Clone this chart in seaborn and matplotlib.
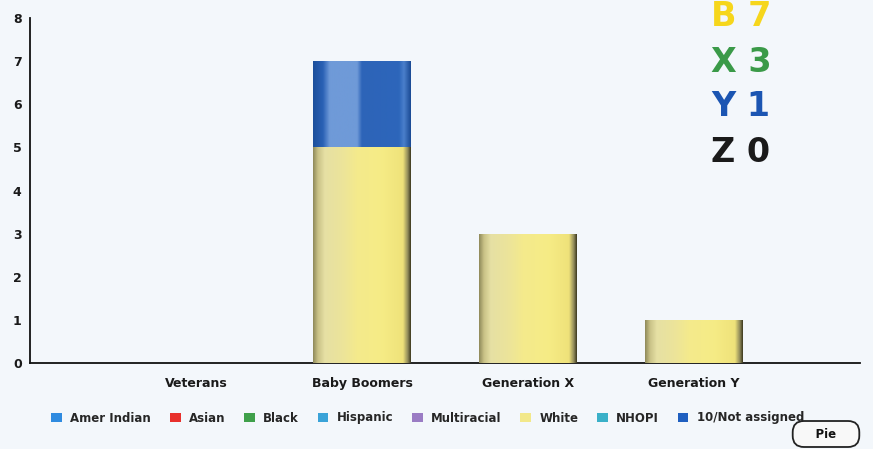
import numpy as np
import pandas as pd
import matplotlib
matplotlib.use("Agg")
import matplotlib.pyplot as plt
import seaborn as sns
from matplotlib.colors import LinearSegmentedColormap
from matplotlib.patches import Patch

# data
generations = ["Veterans", "Baby Boomers", "Generation X", "Generation Y"]
white = [0, 5, 3, 1]
not_assigned = [0, 2, 0, 0]
legend_labels = ["Amer Indian", "Asian", "Black", "Hispanic", "Multiracial",
                 "White", "NHOPI", "10/Not assigned"]
legend_colors = ["#2f8be0", "#e8302c", "#3fa04a", "#3aa3d8", "#9a7cc4",
                 "#f2e88a", "#3ab0c8", "#1f5fc0"]
summary_letters = ["B", "X", "Y", "Z"]
summary_values = [7, 3, 1, 0]
summary_colors = ["#f6d61c", "#3a9a48", "#1b55b2", "#1a1a1a"]

bg = "#f3f7fb"
sns.set_style("white")
plt.rcParams["font.family"] = ["DejaVu Sans"]

fig = plt.figure(figsize=(8.73, 4.49), dpi=100, facecolor=bg)
ax = fig.add_axes([30 / 873, 86 / 449, 830 / 873, 345 / 449])
ax.set_facecolor(bg)

df = pd.DataFrame({"generation": generations, "white": white,
                   "total": np.array(white) + np.array(not_assigned)})

sns.barplot(data=df, x="generation", y="total", color="#2a63b8", width=0.59,
            ax=ax, edgecolor="none", zorder=2)
n_top = len(ax.patches)
sns.barplot(data=df, x="generation", y="white", color="#f2e88a", width=0.59,
            ax=ax, edgecolor="none", zorder=3)

yellow_cmap = LinearSegmentedColormap.from_list(
    "y", [(0, "#8f8a5a"), (0.05, "#c9c287"), (0.12, "#e6e0a4"), (0.3, "#ece49a"),
          (0.45, "#f4ea8c"), (0.7, "#f6ec86"), (0.92, "#efe27a"), (0.97, "#8f8a5a"),
          (1, "#3e3a20")])
blue_cmap = LinearSegmentedColormap.from_list(
    "b", [(0, "#1c4f9c"), (0.1, "#2a61b5"), (0.17, "#6f9ad8"), (0.45, "#6f9ad8"),
          (0.5, "#2d64b8"), (0.88, "#2d66bb"), (0.93, "#4a7fcb"), (1, "#1a4a94")])

grad = np.linspace(0, 1, 256).reshape(1, -1)
for i, p in enumerate(ax.patches):
    if p.get_height() <= 0:
        continue
    cmap = blue_cmap if i < n_top else yellow_cmap
    x0, y0 = p.get_x(), p.get_y()
    w, h = p.get_width(), p.get_height()
    im = ax.imshow(grad, cmap=cmap, aspect="auto", extent=(x0, x0 + w, y0, y0 + h),
                   zorder=p.get_zorder() + 0.5)
    im.set_clip_path(p)

ax.set_xlim(-1, 4)
ax.set_ylim(0, 8)
ax.set_xlabel("")
ax.set_ylabel("")
ax.set_yticks(range(0, 9))
ax.tick_params(axis="y", length=0, pad=6, labelsize=9)
ax.tick_params(axis="x", length=0, pad=10, labelsize=9)
for lab in ax.get_yticklabels() + ax.get_xticklabels():
    lab.set_fontweight("bold")
    lab.set_color("#1a1a1a")
for s in ["top", "right"]:
    ax.spines[s].set_visible(False)
for s in ["left", "bottom"]:
    ax.spines[s].set_color("#111111")
    ax.spines[s].set_linewidth(1.3)

# summary text at top right
for k, (let, val, col) in enumerate(zip(summary_letters, summary_values, summary_colors)):
    fig.text(711 / 873, 1 - (17 + k * 45) / 449, f"{let} {val}", color=col,
             fontsize=24, fontweight="heavy", ha="left", va="center")

handles = [Patch(facecolor=c, edgecolor="none") for c in legend_colors]
fig.legend(handles, legend_labels, loc="center", bbox_to_anchor=(0.49, 1 - 418 / 449),
           ncol=8, frameon=False, handlelength=0.9, handleheight=0.9,
           columnspacing=1.6, handletextpad=0.7,
           prop={"weight": "bold", "size": 8.5})

# "Pie" button
fig.text(826 / 873, 1 - 434 / 449, "    Pie    ", fontsize=8.5, fontweight="bold",
         ha="center", va="center", color="#111111",
         bbox=dict(boxstyle="round,pad=0.55,rounding_size=0.95", facecolor="#f8f8f8",
                   edgecolor="#222222", linewidth=1.3))

fig.savefig("out.png", dpi=100, facecolor=bg)
